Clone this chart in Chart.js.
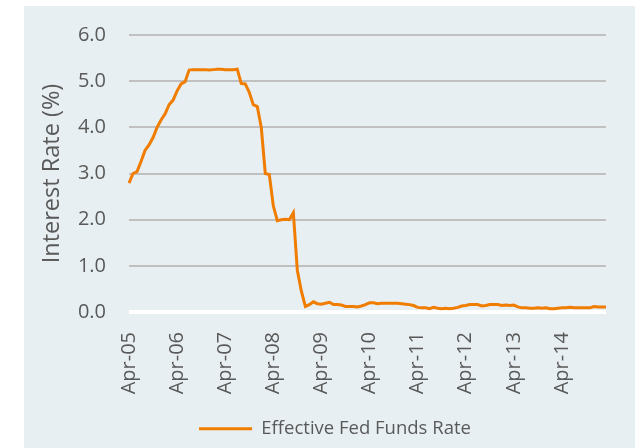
<!DOCTYPE html>
<html>
<head>
<meta charset="utf-8">
<script src="https://cdn.jsdelivr.net/npm/chart.js@4.4.1/dist/chart.umd.min.js"></script>
<style>
  html, body { margin: 0; padding: 0; background: #ffffff; }
  #wrap { width: 639px; height: 448px; position: relative; }
</style>
</head>
<body>
<div id="wrap"><canvas id="c"></canvas></div>
<script>
// ---- Data (monthly effective fed funds rate, %, Apr-2005 .. Mar-2015) ----
const monthNames = ['Jan','Feb','Mar','Apr','May','Jun','Jul','Aug','Sep','Oct','Nov','Dec'];
const years = ['05','06','07','08','09','10','11','12','13','14','15'];
const tickLabels = ['Apr-05','Apr-06','Apr-07','Apr-08','Apr-09','Apr-10','Apr-11','Apr-12','Apr-13','Apr-14'];
const yTicks = [0, 1, 2, 3, 4, 5, 6];

const rate2005 = [2.79, 3.00, 3.04, 3.26, 3.50, 3.62, 3.78, 4.00, 4.16];            // Apr-Dec
const rate2006 = [4.29, 4.49, 4.59, 4.79, 4.94, 4.99, 5.24, 5.25, 5.25, 5.25, 5.25, 5.24];
const rate2007 = [5.25, 5.26, 5.26, 5.25, 5.25, 5.25, 5.26, 4.95, 4.94, 4.76, 4.49, 4.45];
const rate2008 = [4.00, 3.00, 2.98, 2.30, 1.98, 2.00, 2.01, 2.00, 2.15, 0.90, 0.45, 0.12];
const rate2009 = [0.16, 0.22, 0.18, 0.17, 0.19, 0.21, 0.16, 0.16, 0.15, 0.12, 0.12, 0.12];
const rate2010 = [0.11, 0.13, 0.16, 0.20, 0.20, 0.18, 0.19, 0.19, 0.19, 0.19, 0.19, 0.18];
const rate2011 = [0.17, 0.16, 0.14, 0.10, 0.09, 0.09, 0.07, 0.10, 0.08, 0.07, 0.08, 0.07];
const rate2012 = [0.08, 0.10, 0.13, 0.14, 0.16, 0.16, 0.16, 0.13, 0.14, 0.16, 0.16, 0.16];
const rate2013 = [0.14, 0.15, 0.14, 0.15, 0.11, 0.09, 0.09, 0.08, 0.08, 0.09, 0.08, 0.09];
const rate2014 = [0.07, 0.07, 0.08, 0.09, 0.09, 0.10, 0.09, 0.09, 0.09, 0.09, 0.09, 0.12];
const rate2015 = [0.11, 0.11, 0.11];                                                 // Jan-Mar

const seriesName = 'Effective Fed Funds Rate';

// ---- Build categories / series ----
const categories = [];
years.forEach((y, yi) => {
  monthNames.forEach((m, mi) => {
    if (yi === 0 && mi < 3) return;              // start Apr-05
    if (yi === years.length - 1 && mi > 2) return; // end Mar-15
    categories.push(m + '-' + y);
  });
});
const rates = [].concat(rate2005, rate2006, rate2007, rate2008, rate2009, rate2010,
                        rate2011, rate2012, rate2013, rate2014, rate2015);

const ORANGE = '#F07C00';
const TEXT = '#595959';
const FONT = "'Open Sans', 'Liberation Sans', sans-serif";

const panelBg = {
  id: 'panelBg',
  beforeDraw(chart) {
    const ctx = chart.ctx;
    ctx.save();
    ctx.fillStyle = '#ffffff';
    ctx.fillRect(0, 0, chart.width, chart.height);
    ctx.fillStyle = '#E7EFF2';
    ctx.fillRect(24, 6, 611, chart.height - 6);
    ctx.restore();
  }
};

new Chart(document.getElementById('c'), {
  type: 'line',
  data: {
    labels: categories,
    datasets: [{
      label: seriesName,
      data: rates,
      borderColor: ORANGE,
      backgroundColor: ORANGE,
      borderWidth: 3,
      pointRadius: 0,
      tension: 0,
      fill: false
    }]
  },
  options: {
    responsive: true,
    maintainAspectRatio: false,
    animation: false,
    layout: { padding: { left: 31, right: 0, top: 35, bottom: 0 } },
    plugins: {
      tooltip: { enabled: false },
      legend: {
        position: 'bottom',
        labels: {
          color: TEXT,
          font: { family: FONT, size: 18.5 },
          boxWidth: 53,
          boxHeight: 3,
          padding: 8,
          generateLabels: (chart) => Chart.defaults.plugins.legend.labels.generateLabels(chart)
            .map(l => Object.assign(l, { lineWidth: 0, fillStyle: ORANGE }))
        }
      }
    },
    scales: {
      x: {
        type: 'category',
        offset: false,
        grid: { display: false, drawTicks: false },
        border: { display: false },
        ticks: {
          autoSkip: false,
          minRotation: 90,
          maxRotation: 90,
          padding: 20,
          color: TEXT,
          font: { family: FONT, size: 20 },
          callback: function(value, index) {
            const lab = this.getLabelForValue(value);
            return tickLabels.includes(lab) ? lab : '';
          }
        },
        afterFit: (s) => { s.paddingRight = 33; s.height = 99.5; }
      },
      y: {
        min: yTicks[0],
        max: yTicks[yTicks.length - 1],
        afterBuildTicks: (s) => { s.ticks = yTicks.map(v => ({ value: v })); },
        grid: {
          drawTicks: false,
          color: (c) => (c.tick && c.tick.value === 0) ? '#FFFFFF' : '#C0C0C0',
          lineWidth: (c) => (c.tick && c.tick.value === 0) ? 4 : 2
        },
        border: { display: false },
        ticks: {
          padding: 23,
          color: TEXT,
          font: { family: FONT, size: 20 },
          callback: (v) => Number(v).toFixed(1)
        },
        title: {
          display: true,
          text: 'Interest Rate (%)',
          color: TEXT,
          font: { family: FONT, size: 23.5 },
          padding: { top: 7, bottom: 0 }
        },
        afterFit: (s) => { s.width = 98; }
      }
    }
  },
  plugins: [panelBg]
});
</script>
</body>
</html>
